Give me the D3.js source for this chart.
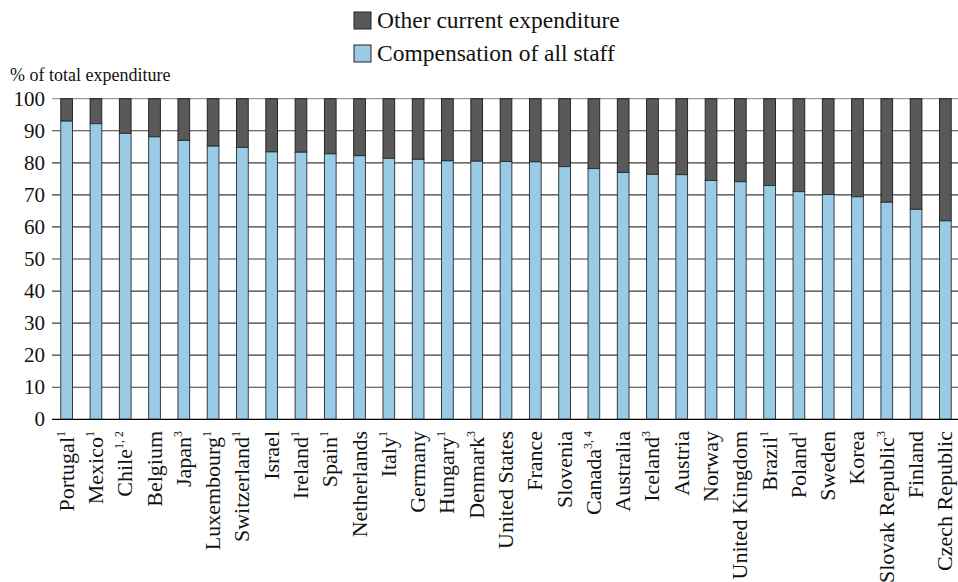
<!DOCTYPE html>
<html>
<head>
<meta charset="utf-8">
<script src="https://cdn.jsdelivr.net/npm/d3@7"></script>
</head>
<body style="margin:0;background:#fff">
<svg id="chart" width="958" height="582"></svg>
<script>
// ---- Data ----
const countries = ["Portugal","Mexico","Chile","Belgium","Japan","Luxembourg","Switzerland","Israel","Ireland","Spain",
  "Netherlands","Italy","Germany","Hungary","Denmark","United States","France","Slovenia","Canada","Australia",
  "Iceland","Austria","Norway","United Kingdom","Brazil","Poland","Sweden","Korea","Slovak Republic","Finland","Czech Republic"];
const notes = ["1","1","1, 2","","3","1","1","","1","1",
  "","1","","1","3","","","","3, 4","",
  "3","","","","1","1","","","3","",""];
const compensation = [93.0,92.2,89.2,88.1,87.0,85.2,84.8,83.4,83.3,82.8,
  82.2,81.4,81.1,80.6,80.5,80.4,80.3,78.8,78.2,77.0,
  76.4,76.3,74.5,74.1,72.9,71.0,70.1,69.4,67.7,65.5,61.9];
const other = compensation.map(v => 100 - v);
const yTicks = [0,10,20,30,40,50,60,70,80,90,100];
const seriesNames = ["Other current expenditure","Compensation of all staff"];
const yTitle = "% of total expenditure";

// ---- Layout ----
const FONT = "Times New Roman";
const svg = d3.select("#chart");
const blue = "#99CBE6", dark = "#595959";

const x = d3.scaleBand().domain(countries).range([52, 960]).paddingInner(0.6).paddingOuter(0.3);
const y = d3.scaleLinear().domain([0, 100]).range([419.3, 98.7]);

// gridlines
svg.append("g").selectAll("line").data(yTicks.filter(d => d > 0)).join("line")
  .attr("x1", 52).attr("x2", 958)
  .attr("y1", d => y(d)).attr("y2", d => y(d))
  .attr("stroke", d => d === 100 ? "#9a9a9a" : "#3c3c3c").attr("stroke-width", 1.2);

// y tick labels
svg.append("g").selectAll("text").data(yTicks).join("text")
  .attr("font-family", FONT)
  .attr("x", 45).attr("y", d => y(d) + 7)
  .attr("text-anchor", "end").attr("font-size", 21).attr("fill", "#111")
  .text(d => d);

// y title
svg.append("text").attr("font-family", FONT).attr("x", 10).attr("y", 81).attr("font-size", 18)
  .attr("fill", "#111").text(yTitle);

// bars
const data = countries.map((c, i) => ({c, comp: compensation[i], oth: other[i]}));
const bars = svg.append("g");
bars.selectAll("rect.oth").data(data).join("rect").attr("class", "oth")
  .attr("x", d => x(d.c)).attr("width", x.bandwidth())
  .attr("y", d => y(d.comp + d.oth)).attr("height", d => y(d.comp) - y(d.comp + d.oth))
  .attr("fill", dark).attr("stroke", "#1a1a1a").attr("stroke-width", 0.9);
bars.selectAll("rect.comp").data(data).join("rect").attr("class", "comp")
  .attr("x", d => x(d.c)).attr("width", x.bandwidth())
  .attr("y", d => y(d.comp)).attr("height", d => y(0) - y(d.comp))
  .attr("fill", blue).attr("stroke", "#2a2a2a").attr("stroke-width", 0.9);

// baseline
svg.append("line").attr("x1", 52).attr("x2", 958).attr("y1", y(0)).attr("y2", y(0))
  .attr("stroke", "#000").attr("stroke-width", 1.2);

// x labels
const xl = svg.append("g").selectAll("text").data(countries).join("text")
  .attr("font-family", FONT)
  .attr("transform", d => `translate(${x(d) + x.bandwidth() / 2 + 7},431) rotate(-90)`)
  .attr("text-anchor", "end")
  .attr("font-size", 22).attr("fill", "#111");
xl.append("tspan").text(d => d);
xl.append("tspan").attr("font-size", 12).attr("dy", -9)
  .text((d, i) => notes[i]);

// legend
const legend = svg.append("g");
const legColors = [dark, blue];
seriesNames.forEach((name, i) => {
  legend.append("rect").attr("x", 354).attr("y", 12 + i * 33).attr("width", 17).attr("height", 17)
    .attr("fill", legColors[i]).attr("stroke", "#222").attr("stroke-width", 1);
  legend.append("text").attr("font-family", FONT).attr("x", 377).attr("y", 28 + i * 33)
    .attr("font-size", 23.5).attr("fill", "#111").text(name);
});
</script>
</body>
</html>
